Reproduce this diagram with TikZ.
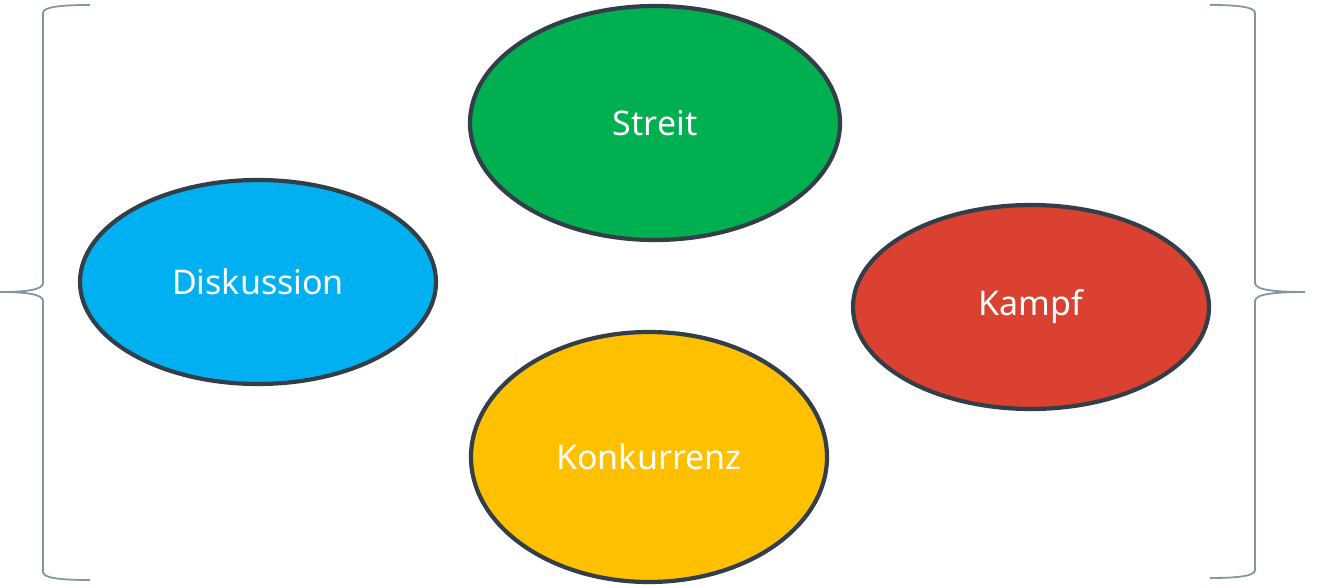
\documentclass[tikz,border=0pt]{standalone}
\usepackage{fontspec}
\setmainfont{Noto Sans}
\usetikzlibrary{shapes.geometric}
\definecolor{edgegray}{HTML}{333F48}
\definecolor{bracegray}{HTML}{8497A0}
\definecolor{cgreen}{HTML}{00AF50}
\definecolor{cblue}{HTML}{00B0F0}
\definecolor{cred}{HTML}{DB4130}
\definecolor{cyellow}{HTML}{FFC000}
\tikzset{
  bubble/.style={ellipse, draw=edgegray, line width=4.2pt, text=white, inner sep=0pt,
    font=\fontsize{34}{40}\selectfont},
  bracket/.style={draw=bracegray, line width=1.8pt}
}
\begin{document}
\begin{tikzpicture}[x=1pt,y=-1pt]
\useasboundingbox (0,0) rectangle (1320,585);
% topic bubbles
\node[bubble, fill=cgreen, minimum width=370pt, minimum height=234pt] (streit) at (655,123) {Streit};
\node[bubble, fill=cblue, minimum width=356pt, minimum height=204pt] (disk) at (258,282) {Diskussion};
\node[bubble, fill=cred, minimum width=356pt, minimum height=204pt] (kampf) at (1031,307) {Kampf};
\node[bubble, fill=cyellow, minimum width=356pt, minimum height=250pt] (konk) at (649,457) {Konkurrenz};
% left curly brace
\coordinate (lt) at (90,5);
\coordinate (lm) at (0,292);
\coordinate (lb) at (90,580);
\draw[bracket] (lt) .. controls (60,5) and (43,7) .. (43,13)
  -- (43,283) .. controls (43,290) and (25,292) .. (lm)
  .. controls (25,292) and (43,294) .. (43,301)
  -- (43,572) .. controls (43,578) and (60,580) .. (lb);
% right curly brace
\coordinate (rt) at (1210,5);
\coordinate (rm) at (1305,292);
\coordinate (rb) at (1210,578);
\draw[bracket] (rt) .. controls (1238,5) and (1255,7) .. (1255,13)
  -- (1255,283) .. controls (1255,290) and (1275,292) .. (rm)
  .. controls (1275,292) and (1255,294) .. (1255,301)
  -- (1255,570) .. controls (1255,576) and (1238,578) .. (rb);
\end{tikzpicture}
\end{document}
